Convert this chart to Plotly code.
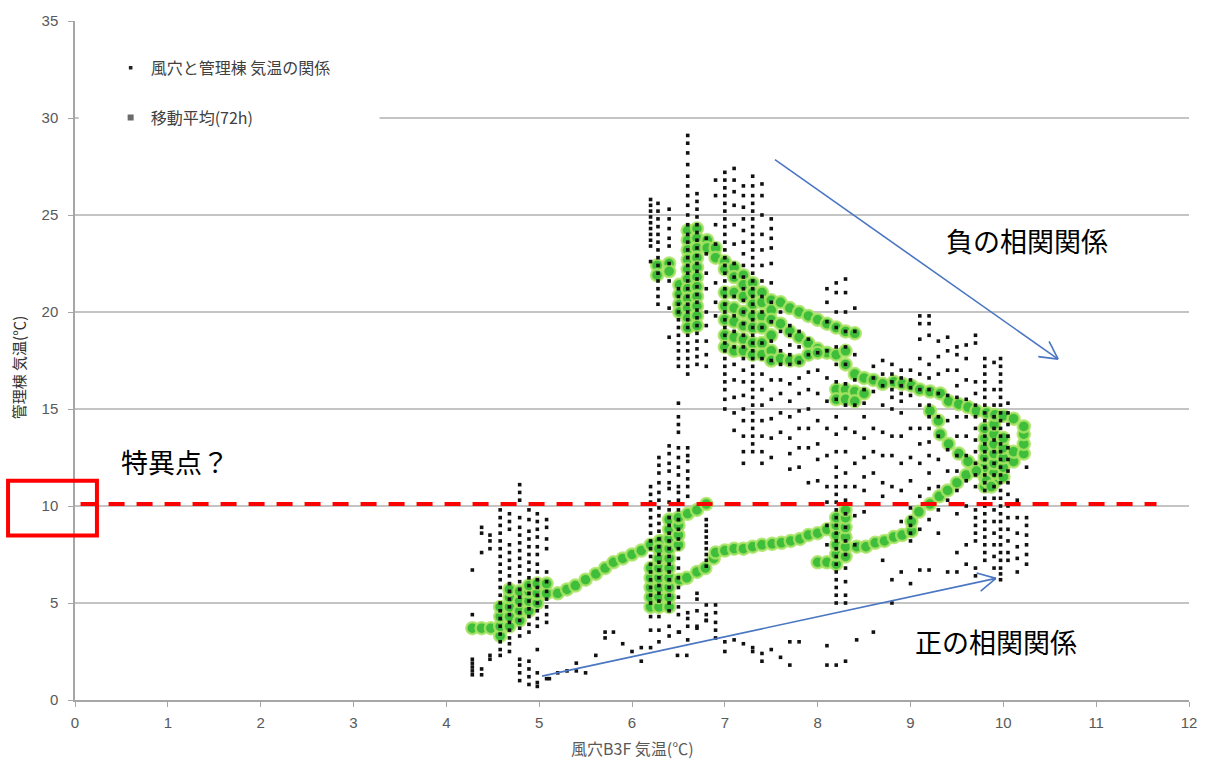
import math
import plotly.graph_objects as go

# ---- hourly readings: cave B3F temperature (x) vs. management-building temperature (y)
# each entry: (cave temperature, [building temperatures recorded at that cave reading])
cols_cool = [
    (4.28, [6.7, 4.4, 2.1, 1.9, 1.7, 1.5, 1.3]),
    (4.38, [8.9, 8.6, 7.6, 1.6, 1.3]),
    (4.47, [8.5, 8.2, 7.8, 2.3, 2.1]),
    (4.58, [9.8, 9.4, 9.0, 8.6, 8.2, 7.8, 7.4, 7.0, 6.6, 6.2, 5.8, 5.4, 5.0, 4.6, 4.2, 3.8, 3.4, 3.0, 2.6, 2.3]),
    (4.68, [9.6, 9.2, 8.8, 8.0, 7.6, 7.2, 6.8, 6.4, 6.0, 5.6, 5.2, 4.8, 4.4, 4.0, 3.6, 3.2, 2.9, 2.5]),
    (4.79, [11.1, 10.7, 10.3, 9.4, 8.9, 8.5, 8.1, 7.7, 7.3, 6.9, 6.5, 6.1, 5.7, 5.3, 4.9, 4.5, 4.1, 3.7, 3.3, 2.1, 1.8, 1.4, 1.0]),
    (4.89, [9.8, 9.3, 8.7, 8.3, 7.9, 7.5, 7.1, 6.7, 6.3, 5.9, 5.5, 5.1, 4.7, 4.3, 3.9, 3.5, 2.0, 1.6, 1.2, 0.8]),
    (4.98, [9.6, 9.2, 8.8, 8.4, 7.9, 7.5, 7.0, 6.6, 6.2, 5.8, 5.4, 5.0, 4.6, 4.2, 3.8, 2.6, 1.4, 0.9, 0.7]),
    (5.08, [9.3, 8.9, 8.3, 7.8, 6.6, 6.1, 5.6, 5.2, 4.8, 4.4, 4.0, 1.1]),
]

scatter_cave = [5.11, 5.20, 5.30, 5.40, 5.40, 5.50, 5.61, 5.71, 5.71, 5.80, 5.90, 6.00, 6.10, 6.10,
                6.29, 6.49, 6.59, 6.51, 6.60, 6.70, 6.80, 6.90, 7.00, 7.00, 7.10, 7.20, 7.30, 7.30,
                7.40, 7.40, 7.50, 7.60, 7.70, 7.70, 7.80, 8.10, 8.10, 8.20, 8.30, 8.42, 8.60, 8.80,
                9.00, 9.40]
scatter_hut = [1.1, 1.4, 1.5, 1.9, 1.5, 1.4, 2.3, 3.5, 3.2, 3.5, 2.9, 2.5, 2.7, 2.0,
               3.0, 2.3, 2.3, 3.5, 3.1, 3.8, 4.1, 3.2, 3.0, 2.5, 3.1, 2.9, 2.7, 2.5,
               2.4, 2.0, 2.6, 2.2, 3.0, 1.8, 3.0, 2.8, 1.8, 1.8, 2.0, 3.1, 3.5, 5.0,
               6.0, 6.6]

cols_mid = [
    (6.20, [11.0, 10.6, 10.2, 9.8, 9.4, 9.0, 8.6, 8.2, 7.8, 7.4, 7.0, 6.6, 6.2, 5.8, 5.4, 5.0, 4.3, 3.6, 2.7]),
    (6.29, [12.5, 12.1, 11.7, 11.2, 10.7, 10.3, 9.9, 9.5, 9.1, 8.7, 8.3, 7.9, 7.5, 7.1, 6.7, 6.3, 5.9, 5.5, 5.1, 4.3, 3.6]),
    (6.40, [13.1, 12.7, 12.2, 11.8, 11.2, 10.9, 10.2, 9.8, 9.4, 9.0, 8.6, 8.2, 7.8, 7.4, 7.0, 6.6, 6.2, 5.8, 5.4, 5.0, 4.6, 3.8, 3.3]),
    (6.50, [15.3, 14.6, 14.2, 13.8, 13.0, 12.5, 12.0, 11.6, 11.0, 10.7, 10.3, 9.8, 9.3, 8.8, 8.3, 7.8, 7.3, 6.8, 6.3, 5.8, 5.3, 4.8, 4.4, 3.5]),
    (6.60, [13.0, 12.6, 12.3, 11.8, 11.4, 11.0, 10.5, 4.5, 4.2, 3.8]),
    (6.70, [5.5, 5.2, 4.6, 3.7]),
    (6.80, [9.3, 9.0, 8.7, 8.4, 8.1, 7.8, 7.5, 7.2, 6.9, 4.9, 4.4, 4.1]),
    (6.90, [4.9, 4.5, 4.0, 3.6]),
]

cols_warm = [
    (6.20, [25.8, 25.5, 25.2, 24.9, 24.6, 24.3, 24.0, 23.7, 23.4, 22.6]),
    (6.28, [25.6, 25.2, 24.8, 24.4, 24.0, 23.6, 23.2, 22.8, 22.4, 22.0, 21.6, 21.2, 20.8, 20.4]),
    (6.40, [25.3, 24.8, 24.3, 23.8, 23.4, 22.5, 21.6, 20.2, 18.7]),
    (6.50, [21.2, 20.8, 20.4, 20.0, 19.6, 19.2, 18.8, 18.4, 18.0, 17.6, 17.2]),
    (6.60, [29.1, 28.7, 28.2, 27.6, 27.0, 26.5, 26.0, 25.5, 25.0, 24.5, 24.0, 23.6, 23.2, 22.8, 22.4, 22.0,
            21.6, 21.2, 20.8, 20.4, 20.0, 19.6, 19.2, 18.8, 18.4, 18.0, 17.6, 17.2, 16.8]),
    (6.70, [26.1, 25.7, 25.3, 24.9, 24.5, 24.1, 23.7, 23.3, 22.9, 22.5, 22.1, 21.7, 21.3, 20.9, 20.5, 20.1,
            19.7, 19.3, 18.9, 18.5, 18.1, 17.7, 17.3]),
    (6.80, [23.8, 23.0, 22.0, 21.2, 20.0, 19.3, 18.5, 17.8, 17.2]),
    (6.90, [26.8, 26.0, 24.5, 23.5, 21.5, 20.5, 19.8]),
    (7.00, [27.2, 26.8, 26.4, 26.0, 25.6, 25.2, 24.8, 24.4, 24.0, 23.6, 23.2, 22.8, 22.4, 22.0, 21.6, 21.2,
            20.8, 20.4, 20.0, 19.6, 19.2, 18.8, 18.4, 18.0, 17.6, 17.2, 16.8, 16.4, 16.0, 15.5, 15.0]),
    (7.10, [27.4, 26.8, 26.2, 25.5, 24.5, 23.5, 22.5, 21.8, 20.8, 19.8, 19.0, 18.2, 17.3, 16.5, 15.6, 14.8, 13.9]),
    (7.20, [26.5, 26.0, 25.4, 24.8, 24.2, 23.6, 23.0, 22.4, 21.8, 21.2, 20.6, 20.0, 19.4, 18.8, 18.2, 17.6,
            17.0, 16.4, 15.7, 15.0, 14.4, 13.6, 12.8, 12.2]),
    (7.30, [27.0, 26.5, 26.0, 25.6, 25.2, 24.8, 24.4, 24.0, 23.6, 23.2, 22.8, 22.4, 22.0, 21.6, 21.2, 20.8,
            20.4, 20.0, 19.6, 19.2, 18.8, 18.4, 18.0, 17.6, 17.2, 16.8, 16.4, 16.0, 15.6, 15.2, 14.8, 14.4,
            14.0, 13.6, 13.2, 12.8]),
    (7.40, [26.6, 26.0, 25.0, 24.0, 23.2, 22.4, 21.6, 20.8, 20.0, 19.2, 18.4, 17.6, 16.8, 16.0, 15.2, 14.4, 13.6, 12.8, 12.2]),
    (7.50, [24.8, 24.3, 23.8, 23.3, 22.5, 21.5, 20.5, 19.5, 18.5, 17.5, 16.5, 15.5, 14.5, 13.5, 12.5]),
    (7.60, [20.0, 19.0, 18.0, 17.3, 16.5, 15.8, 14.8, 13.8]),
    (7.70, [19.3, 18.8, 18.3, 17.8, 17.3, 16.3, 15.4, 14.6, 13.5, 12.7, 11.9]),
    (7.80, [19.0, 18.2, 17.4, 16.6, 15.8, 14.9, 14.0, 13.0, 12.0]),
    (7.90, [18.6, 17.8, 16.9, 16.0, 15.0, 14.0, 13.0, 11.2]),
    (8.00, [17.9, 17.0, 15.8, 14.4, 13.2, 12.4, 11.3]),
]

cols_hot = [
    (8.10, [21.2, 20.5, 19.5, 18.0, 16.6, 15.4, 14.0, 12.6, 11.0, 10.2, 9.0, 8.0]),
    (8.20, [21.5, 21.0, 20.0, 19.2, 18.2, 17.3, 16.4, 15.5, 14.6, 13.7, 12.8, 12.0, 11.5, 11.0, 10.6, 10.2,
            9.8, 9.4, 9.0, 8.6, 8.2, 7.8, 7.4, 7.0, 6.6, 6.2, 5.8, 5.4, 5.0]),
    (8.30, [21.7, 21.0, 20.0, 19.0, 18.2, 17.3, 16.3, 15.2, 14.0, 12.8, 11.7, 11.0, 10.3, 9.6, 8.9, 8.2,
            7.5, 6.8, 6.1, 5.4, 5.0]),
    (8.40, [20.2, 19.0, 17.8, 16.5, 15.2, 13.8, 12.2, 11.0, 9.5, 8.0]),
    (8.50, [16.0, 15.3, 14.6, 13.5, 12.5, 11.5, 10.8, 9.7]),
    (8.60, [17.2, 16.6, 15.9, 14.0, 12.8, 11.7]),
    (8.70, [17.5, 16.8, 16.2, 15.2, 13.8, 12.6, 11.2, 10.5, 7.2]),
    (8.80, [17.3, 16.8, 16.4, 16.0, 15.6, 15.0, 13.6, 12.6, 11.0, 6.2]),
    (8.90, [17.0, 16.6, 16.2, 15.8, 15.4, 14.8, 13.6, 12.2, 10.8, 9.2, 6.6]),
    (9.00, [17.0, 16.5, 16.1, 15.7, 14.0, 12.5, 11.3, 9.9, 9.4, 9.0, 8.6, 8.2]),
    (9.10, [19.8, 19.4, 18.6, 17.6, 16.8, 16.0, 15.2, 14.0, 13.2, 12.2, 10.5, 8.8, 6.7]),
    (9.20, [19.8, 19.4, 18.8, 17.3, 16.6, 16.0, 15.2, 14.6, 14.0, 13.3, 12.6, 11.7, 10.9, 9.3, 6.7]),
    (9.30, [18.5, 17.7, 16.8, 15.8, 14.6, 13.6, 12.4, 11.0, 9.8, 8.6]),
    (9.40, [18.7, 18.0, 17.0, 15.7, 14.4, 12.9, 11.8, 10.3]),
    (9.50, [18.2, 17.8, 17.0, 16.2, 15.6, 14.6, 13.6, 12.6, 11.8, 10.8, 9.6, 7.6, 6.6]),
    (9.60, [18.3, 17.6, 16.5, 15.5, 14.6, 13.6, 12.6, 11.3, 10.0, 8.0, 7.0]),
    (9.70, [18.8, 18.4, 16.4, 15.8, 15.2, 14.6, 14.0, 13.4, 12.8, 12.2, 11.6, 11.0, 9.8, 9.4, 9.0, 8.6, 8.2, 6.8, 6.4]),
    (9.80, [17.6, 17.2, 16.8, 16.4, 16.0, 15.6, 15.2, 14.8, 14.4, 14.0, 13.6, 13.2, 12.8, 12.4, 12.0, 11.6,
            11.2, 10.8, 10.4, 10.0, 9.6, 9.2, 8.8, 8.4, 8.0, 7.6, 7.2]),
    (9.90, [17.4, 16.0, 15.2, 14.6, 14.0, 13.4, 12.8, 12.2, 11.6, 11.0, 10.4, 9.8, 9.2, 8.6, 8.0, 7.4, 6.8]),
    (9.97, [17.6, 17.2, 16.8, 16.4, 16.0, 15.6, 15.2, 14.8, 14.4, 14.0, 13.6, 13.2, 12.8, 12.4, 12.0, 11.6,
            11.2, 10.8, 10.4, 10.0, 9.6, 9.2, 8.8, 8.4, 8.0, 7.6, 7.2, 6.8, 6.5, 6.2]),
    (10.05, [15.3, 14.8, 14.2, 13.6, 13.0, 12.4, 11.8, 11.2, 10.6, 10.0, 9.4, 8.8, 8.2, 7.6, 7.2]),
    (10.15, [10.3, 9.4, 8.6, 7.9, 7.3, 6.6]),
    (10.25, [12.0, 9.4, 9.0, 8.5, 8.0, 7.5, 7.0]),
]

# ---- 72-hour moving average, one list of (cave, building) pairs per stretch of the track
ma_spring = [(4.28, 3.7), (4.38, 3.7), (4.48, 3.7), (4.58, 3.3), (4.58, 3.8), (4.58, 4.3), (4.58, 4.8),
             (4.68, 3.8), (4.68, 4.3), (4.68, 4.8), (4.68, 5.3), (4.68, 5.7), (4.79, 4.1), (4.79, 4.6),
             (4.79, 5.1), (4.79, 5.6), (4.89, 4.6), (4.89, 5.1), (4.89, 5.6), (4.89, 5.9), (4.98, 5.0),
             (4.98, 5.5), (4.98, 6.0), (5.08, 5.5), (5.08, 6.0)]
ma_rise_1 = [(5.20, 5.5), (5.30, 5.7), (5.39, 5.9), (5.50, 6.2), (5.61, 6.5), (5.71, 6.8), (5.80, 7.1),
             (5.90, 7.3), (6.00, 7.5), (6.10, 7.7), (6.20, 8.0), (6.30, 8.2)]
ma_june = [(6.20, 4.8), (6.20, 5.3), (6.20, 5.8), (6.20, 6.3), (6.20, 6.8), (6.29, 4.8), (6.29, 5.3),
           (6.29, 5.8), (6.29, 6.3), (6.29, 6.8), (6.29, 7.3), (6.29, 7.8), (6.40, 4.8), (6.40, 5.3),
           (6.40, 5.8), (6.40, 6.3), (6.40, 6.8), (6.40, 7.3), (6.40, 7.8), (6.40, 8.3), (6.40, 8.8),
           (6.40, 9.3), (6.50, 8.0), (6.50, 8.5), (6.50, 9.0), (6.50, 9.4), (6.60, 9.6), (6.70, 9.8),
           (6.80, 10.1)]
ma_rise_2 = [(6.51, 6.2), (6.59, 6.3), (6.70, 6.6), (6.79, 6.8), (6.88, 7.3), (6.90, 7.6), (7.00, 7.7),
             (7.10, 7.8), (7.20, 7.8), (7.30, 7.9), (7.40, 8.0), (7.51, 8.05), (7.61, 8.1), (7.71, 8.2),
             (7.81, 8.3), (7.90, 8.5), (8.00, 8.6), (8.10, 8.8), (8.20, 8.9)]
ma_august = [(8.00, 7.1), (8.10, 7.1), (8.20, 7.0), (8.20, 7.5), (8.20, 8.0), (8.20, 8.5), (8.20, 9.0),
             (8.20, 9.4), (8.30, 7.4), (8.30, 7.9), (8.30, 8.4), (8.30, 8.9), (8.30, 9.4), (8.30, 9.8)]
ma_rise_3 = [(8.42, 7.9), (8.52, 7.9), (8.62, 8.1), (8.72, 8.2), (8.82, 8.4), (8.91, 8.5), (9.01, 8.7),
             (9.01, 9.2), (9.09, 9.7), (9.21, 10.1), (9.31, 10.5), (9.40, 10.8), (9.50, 11.2),
             (9.60, 11.6), (9.70, 12.0)]
ma_peak = [(9.80, 11.0), (9.80, 11.5), (9.80, 12.0), (9.80, 12.5), (9.80, 13.0), (9.80, 13.5), (9.80, 14.0),
           (9.90, 11.2), (9.90, 11.7), (9.90, 12.2), (9.90, 12.7), (9.90, 13.2), (9.90, 13.7), (9.90, 14.2),
           (10.00, 11.5), (10.00, 12.0), (10.00, 12.5), (10.00, 13.0), (10.00, 13.5), (10.11, 12.3),
           (10.11, 12.8), (10.22, 12.7), (10.22, 13.2), (10.22, 13.7)]
ma_fall_1 = [(8.82, 16.4), (8.91, 16.3), (9.01, 16.2), (9.10, 16.0), (9.21, 15.9), (9.32, 15.8),
             (9.41, 15.4), (9.52, 15.25), (9.62, 15.1), (9.71, 14.9), (9.82, 14.8), (9.91, 14.7),
             (10.00, 14.65), (10.11, 14.5), (10.22, 14.1)]
ma_fall_2 = [(9.21, 14.9), (9.30, 14.4), (9.32, 13.7), (9.41, 13.2), (9.52, 12.7), (9.62, 12.3),
             (9.71, 11.8), (9.82, 11.3), (9.87, 11.0)]
ma_summer = [(6.27, 22.4), (6.40, 22.5), (6.40, 22.1), (6.27, 21.9), (6.51, 21.4), (6.51, 20.9),
             (6.51, 20.4), (6.51, 20.0), (6.60, 24.2), (6.60, 23.7), (6.60, 23.2), (6.60, 22.7),
             (6.60, 22.2), (6.60, 21.7), (6.60, 21.2), (6.60, 20.7), (6.60, 20.2), (6.60, 19.7),
             (6.60, 19.2), (6.70, 24.3), (6.70, 23.8), (6.70, 23.3), (6.70, 22.8), (6.70, 22.3),
             (6.70, 21.8), (6.70, 21.3), (6.70, 20.8), (6.70, 20.3), (6.70, 19.8), (6.70, 19.3),
             (6.81, 23.7), (6.81, 23.3), (6.90, 23.3), (6.90, 22.8), (7.00, 22.6), (7.00, 22.2),
             (7.00, 21.0), (7.00, 20.3), (7.00, 19.6), (7.00, 18.8), (7.00, 18.2), (7.10, 22.3),
             (7.10, 21.8), (7.10, 21.0), (7.10, 20.2), (7.10, 19.5), (7.10, 18.7), (7.10, 18.0),
             (7.20, 21.9), (7.20, 21.4), (7.20, 20.8), (7.20, 20.0), (7.20, 19.3), (7.20, 18.6),
             (7.20, 18.0), (7.30, 21.5), (7.30, 21.0), (7.30, 20.4), (7.30, 19.8), (7.30, 19.2),
             (7.30, 18.4), (7.30, 17.8), (7.40, 21.0), (7.40, 20.5), (7.40, 19.8), (7.40, 19.2),
             (7.40, 18.4), (7.40, 17.8), (7.50, 20.6), (7.50, 20.1), (7.50, 19.6), (7.50, 18.8),
             (7.50, 18.0), (7.50, 17.5)]
ma_autumn = [(7.60, 20.5), (7.70, 20.2), (7.80, 20.0), (7.90, 19.8), (8.00, 19.6), (8.10, 19.4),
             (8.20, 19.2), (8.30, 19.0), (8.40, 18.9), (7.60, 19.4), (7.70, 19.0), (7.80, 18.7),
             (7.90, 18.4), (8.00, 18.1), (8.10, 17.9), (8.20, 17.8), (8.30, 18.0), (7.60, 17.6),
             (7.70, 17.5), (7.80, 17.5), (7.90, 17.8), (8.00, 17.9), (8.30, 17.3), (8.40, 16.8),
             (8.50, 16.6), (8.60, 16.5), (8.70, 16.3), (8.20, 16.0), (8.20, 15.5), (8.30, 16.0),
             (8.30, 15.5), (8.40, 15.9), (8.40, 15.4), (8.50, 15.8)]

legend_names = ["風穴と管理棟 気温の関係", "移動平均(72h)"]
axis_titles = ["風穴B3F 気温(℃)", "管理棟 気温(℃)"]
x_ticks = list(range(0, 13))
y_ticks = list(range(0, 36, 5))
threshold_temp = 10.1

# ---- assemble
raw_x, raw_y = [], []
for group in (cols_cool, cols_mid, cols_warm, cols_hot):
    for cx, ys in group:
        raw_x += [cx] * len(ys)
        raw_y += ys
raw_x += scatter_cave
raw_y += scatter_hut

ma_x, ma_y = [], []
for seg in (ma_spring, ma_rise_1, ma_june, ma_rise_2, ma_august, ma_rise_3,
            ma_peak, ma_fall_1, ma_fall_2, ma_summer, ma_autumn):
    ma_x += [p[0] for p in seg]
    ma_y += [p[1] for p in seg]

JP = "Noto Sans CJK JP"
fig = go.Figure()

# moving average underneath the raw readings
fig.add_trace(go.Scatter(
    x=ma_x, y=ma_y, mode="markers", showlegend=False, hoverinfo="skip",
    marker=dict(size=12, color="rgba(62,190,58,1)",
                line=dict(color="rgba(170,228,100,0.85)", width=2.5)),
))
fig.add_trace(go.Scatter(
    x=raw_x, y=raw_y, mode="markers", showlegend=False,
    marker=dict(size=3.6, color="#111111", symbol="square"),
))
# legend entries
fig.add_trace(go.Scatter(
    x=[None], y=[None], mode="markers", name=legend_names[0], legendgroup="a",
    marker=dict(size=3.6, color="#222222", symbol="square"),
))
fig.add_trace(go.Scatter(
    x=[None], y=[None], mode="markers", name=legend_names[1], legendgroup="b",
    marker=dict(size=6, color="#6b6b6b", symbol="square"),
))

# white panel behind the legend, hiding the gridline there
fig.add_shape(type="rect", xref="x", yref="y", x0=0.04, x1=3.28, y0=28.3, y1=33.9,
              line=dict(width=0), fillcolor="white", layer="between")

# singular-point threshold
fig.add_shape(type="line", xref="x", yref="y", x0=0.06, x1=11.65, y0=threshold_temp, y1=threshold_temp,
              line=dict(color="#ff0000", width=4, dash="16px,12px"), layer="above")
# box around the y tick label
fig.add_shape(type="rect", xref="paper", yref="paper", x0=-0.0601, x1=0.0197, y0=0.2423, y1=0.3230,
              line=dict(color="#ff0000", width=4), fillcolor="rgba(0,0,0,0)")

# trend arrows (blue, open heads)
SX = 1115 / 12.0
SY = 681 / 35.0


def arrow(x0, y0, x1, y1):
    fig.add_shape(type="line", xref="x", yref="y", x0=x0, y0=y0, x1=x1, y1=y1,
                  line=dict(color="#4a76c2", width=1.6))
    dx, dy = (x1 - x0) * SX, (y1 - y0) * SY
    ang = math.atan2(dy, dx)
    for s in (1, -1):
        a = ang + math.pi + s * math.radians(28)
        hx = x1 + 20 * math.cos(a) / SX
        hy = y1 + 20 * math.sin(a) / SY
        fig.add_shape(type="line", xref="x", yref="y", x0=x1, y0=y1, x1=hx, y1=hy,
                      line=dict(color="#4a76c2", width=1.6))


arrow(7.54, 27.85, 10.59, 17.57)
arrow(5.03, 1.23, 9.92, 6.27)

fig.add_annotation(x=10.25, y=23.7, xref="x", yref="y", text="負の相関関係", showarrow=False,
                   font=dict(family=JP, size=27, color="#000000"))
fig.add_annotation(x=9.92, y=3.0, xref="x", yref="y", text="正の相関関係", showarrow=False,
                   font=dict(family=JP, size=27, color="#000000"))
fig.add_annotation(x=1.08, y=12.3, xref="x", yref="y", text="特異点？", showarrow=False,
                   font=dict(family=JP, size=27, color="#000000"))

# axis titles
fig.add_annotation(x=0.5, y=0, xref="paper", yref="paper", yshift=-48, yanchor="middle",
                   text=axis_titles[0], showarrow=False,
                   font=dict(family=JP, size=16, color="#595959"))
fig.add_annotation(x=0, y=0.49, xref="paper", yref="paper", xshift=-57, xanchor="center",
                   yanchor="middle", text=axis_titles[1], textangle=-90, showarrow=False,
                   font=dict(family=JP, size=15, color="#333333"))

tick_font = dict(family="Liberation Sans, Arial", size=15, color="#595959")
fig.update_layout(
    width=1209, height=765,
    margin=dict(l=75, r=19, t=19, b=65),
    paper_bgcolor="white", plot_bgcolor="white",
    font=dict(family=JP),
    xaxis=dict(range=[0, 12], tickvals=x_ticks, showgrid=False, zeroline=False,
               showline=True, linecolor="#a6a6a6", linewidth=1.5,
               ticks="outside", ticklen=5, tickcolor="#a6a6a6", tickfont=tick_font,
               ticklabelstandoff=3),
    yaxis=dict(range=[0, 35], tickvals=y_ticks, showgrid=True, gridcolor="#c4c4c4", gridwidth=1.5,
               zeroline=False, showline=True, linecolor="#a6a6a6", linewidth=1.5,
               ticks="outside", ticklen=5, tickcolor="#a6a6a6", tickfont=tick_font,
               ticklabelstandoff=7),
    legend=dict(x=0.032, y=0.956, xanchor="left", yanchor="top", bgcolor="rgba(0,0,0,0)",
                font=dict(family=JP, size=16, color="#404040"), tracegroupgap=26,
                itemsizing="trace"),
)

fig.write_html("out.html")
